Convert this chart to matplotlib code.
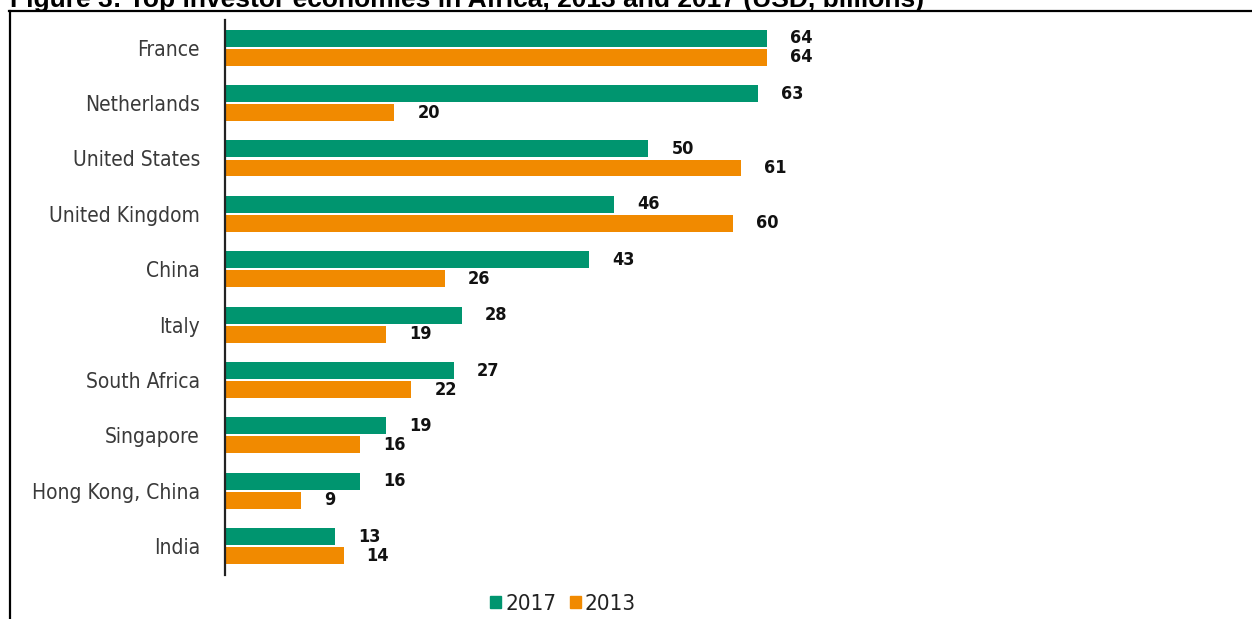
import matplotlib.pyplot as plt
from matplotlib.lines import Line2D
from matplotlib.patches import Patch

countries = ['France', 'Netherlands', 'United States', 'United Kingdom', 'China',
             'Italy', 'South Africa', 'Singapore', 'Hong Kong, China', 'India']
values_2017 = [64, 63, 50, 46, 43, 28, 27, 19, 16, 13]
values_2013 = [64, 20, 61, 60, 26, 19, 22, 16, 9, 14]

green = '#00956f'
orange = '#f18a00'

plt.rcParams['font.family'] = ['DejaVu Sans']
plt.rcParams['font.stretch'] = 'condensed'

fig = plt.figure(figsize=(12.52, 6.19), dpi=100)
ax = fig.add_axes([225 / 1252, 1 - 575 / 619, 0.8115, (575 - 20) / 619])

pos = list(range(len(countries)))
off = 0.172
h = 0.305
ax.barh([p - off for p in pos], values_2017, height=h, color=green)
ax.barh([p + off for p in pos], values_2013, height=h, color=orange)

for p, v in zip(pos, values_2017):
    ax.annotate(str(v), (v, p - off), xytext=(23, 0), textcoords='offset pixels',
                va='center', ha='left', fontsize=13, fontweight='bold', color='#111111')
for p, v in zip(pos, values_2013):
    ax.annotate(str(v), (v, p + off), xytext=(23, 0), textcoords='offset pixels',
                va='center', ha='left', fontsize=13, fontweight='bold', color='#111111')

ax.set_xlim(0, 120)
ax.set_ylim(9.52, -0.5)
ax.set_yticks(pos)
ax.set_yticklabels(countries, fontsize=15, color='#3a3a3a')
ax.tick_params(axis='y', length=0, pad=18)
ax.set_xticks([])
for s in ['top', 'right', 'bottom']:
    ax.spines[s].set_visible(False)
ax.spines['left'].set_linewidth(1.6)
ax.spines['left'].set_color('#222222')

handles = [Patch(color=green, label='2017'), Patch(color=orange, label='2013')]
fig.legend(handles=handles, loc='center', bbox_to_anchor=(563 / 1252, 1 - 604 / 619),
           ncol=2, frameon=False, fontsize=16, handlelength=0.5, handleheight=0.5,
           handletextpad=0.18, columnspacing=0.6, labelcolor='#222222')

# frame and clipped title from the source page
fig.add_artist(Line2D([9 / 1252, 1], [1 - 11 / 619, 1 - 11 / 619],
                      transform=fig.transFigure, color='black', lw=1.6))
fig.add_artist(Line2D([10 / 1252, 10 / 1252], [0, 1 - 11 / 619],
                      transform=fig.transFigure, color='black', lw=1.6))
fig.text(10 / 1252, 1 - 7.5 / 619,
         'Figure 3: Top investor economies in Africa, 2013 and 2017 (USD, billions)',
         fontsize=19, fontweight='bold', va='baseline', ha='left', stretch='normal',
         family=['Liberation Sans', 'DejaVu Sans'])

fig.savefig('out.png', dpi=100)
